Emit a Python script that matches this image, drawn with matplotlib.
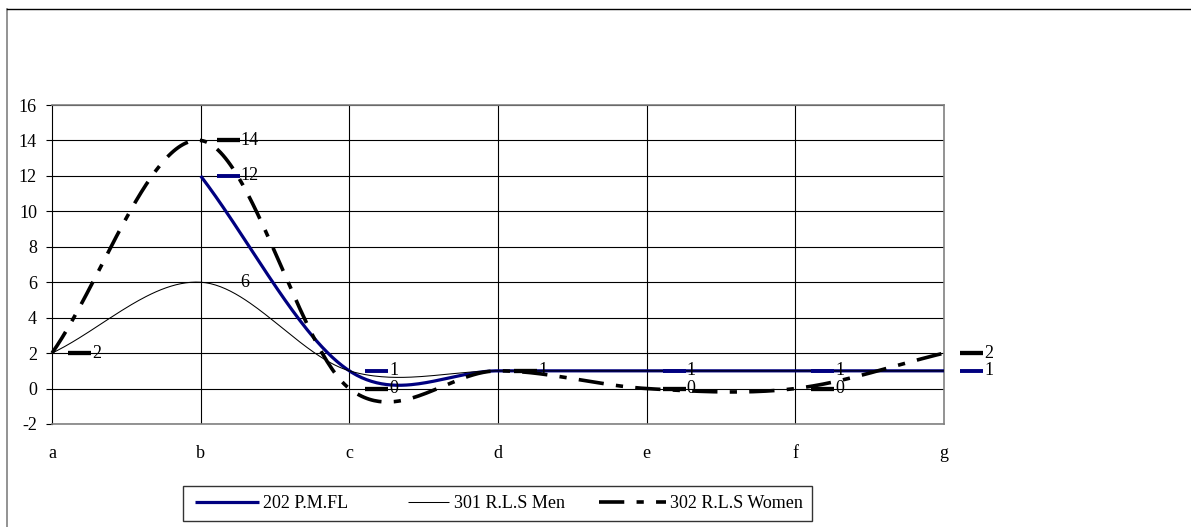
import numpy as np
import matplotlib
matplotlib.use("Agg")
import matplotlib.pyplot as plt
from matplotlib.lines import Line2D
from matplotlib.legend_handler import HandlerLine2D

# ---------------- data ----------------
categories = ['a', 'b', 'c', 'd', 'e', 'f', 'g']
pmfl = [np.nan, 12, 1, 1, 1, 1, 1]
rls_men = [2, 6, 1, 1, 1, 1, 1]
rls_women = [2, 14, 0, 1, 0, 0, 2]
series_names = ['202 P.M.FL', '301 R.L.S Men', '302 R.L.S Women']
y_ticks = list(range(-2, 17, 2))

W, H, DPI = 1191, 527, 100
plt.rcParams['font.family'] = ['Liberation Serif', 'DejaVu Serif']
FS = 13

NAVY = '#000080'
WOMEN_DASH = (0, (7.0, 3.4, 2.0, 3.4))


def smooth(xs, ys, n=60):
    """Excel-like smoothed line (cubic Hermite, Catmull-Rom tangents)."""
    xs = np.asarray(xs, float)
    ys = np.asarray(ys, float)
    mask = ~np.isnan(ys)
    x, y = xs[mask], ys[mask]
    k = len(x)
    m = np.zeros(k)
    for i in range(k):
        if i == 0:
            m[i] = (y[1] - y[0]) / (x[1] - x[0])
        elif i == k - 1:
            m[i] = (y[-1] - y[-2]) / (x[-1] - x[-2])
        else:
            m[i] = (y[i + 1] - y[i - 1]) / (x[i + 1] - x[i - 1])
    ox, oy = [], []
    for i in range(k - 1):
        h = x[i + 1] - x[i]
        t = np.linspace(0, 1, n, endpoint=(i == k - 2))
        h00 = 2 * t**3 - 3 * t**2 + 1
        h10 = t**3 - 2 * t**2 + t
        h01 = -2 * t**3 + 3 * t**2
        h11 = t**3 - t**2
        oy.append(h00 * y[i] + h10 * h * m[i] + h01 * y[i + 1] + h11 * h * m[i + 1])
        ox.append(x[i] + t * h)
    return np.concatenate(ox), np.concatenate(oy)


class ShortHandler(HandlerLine2D):
    """Legend key drawn over only the right part of the handle box."""
    def __init__(self, frac=1.0, **kw):
        super().__init__(**kw)
        self.frac = frac

    def get_xdata(self, legend, xdescent, ydescent, width, height, fontsize):
        x0 = -xdescent + width * (1 - self.frac)
        x1 = -xdescent + width
        return np.array([x0, x1]), np.array([(x0 + x1) / 2])


fig = plt.figure(figsize=(W / DPI, H / DPI), dpi=DPI)
ax = fig.add_axes([52 / W, 1 - 424 / H, (944 - 52) / W, (424 - 105) / H])

xpos = np.arange(len(categories))
ax.set_xlim(0, len(categories) - 1)
ax.set_ylim(min(y_ticks), max(y_ticks))

# gridlines
for yt in y_ticks:
    ax.axhline(yt, color='black', lw=0.8, zorder=1)
for xp in xpos[1:-1]:
    ax.axvline(xp, color='black', lw=0.8, zorder=1)

# series
styles = {
    '202 P.M.FL': dict(color=NAVY, lw=2.3, ls='-'),
    '301 R.L.S Men': dict(color='black', lw=0.75, ls='-'),
    '302 R.L.S Women': dict(color='black', lw=2.6, ls=WOMEN_DASH),
}
values = {'202 P.M.FL': pmfl, '301 R.L.S Men': rls_men, '302 R.L.S Women': rls_women}

handles = []
for name in series_names:
    sx, sy = smooth(xpos, values[name])
    ln, = ax.plot(sx, sy, zorder=3, solid_capstyle='butt', dash_capstyle='butt',
                  label=name, clip_on=False, **styles[name])
    handles.append(ln)

# data labels with legend keys
pxu = ax.transData.transform((1, 0))[0] - ax.transData.transform((0, 0))[0]
done = set()
for name in ['302 R.L.S Women', '202 P.M.FL', '301 R.L.S Men']:
    st = styles[name]
    for i, v in enumerate(values[name]):
        if np.isnan(v) or (i, v) in done:
            continue
        done.add((i, v))
        ax.plot([xpos[i] + 16 / pxu, xpos[i] + 39 / pxu], [v, v], color=st['color'],
                lw=st['lw'] + (0.5 if st['lw'] > 1 else 0), solid_capstyle='butt',
                zorder=4, clip_on=False)
        ax.text(xpos[i] + 40 / pxu, v, f'{v:g}', fontsize=FS, va='center', ha='left',
                zorder=5, clip_on=False)

# axes styling
ax.set_yticks(y_ticks)
ax.set_yticklabels([str(t) for t in y_ticks], fontsize=FS)
ax.set_xticks(xpos)
ax.set_xticklabels(categories, fontsize=FS)
ax.tick_params(axis='y', length=4.3, width=0.8, pad=6.5, direction='out', color='black')
ax.tick_params(axis='x', length=0, pad=15)
for s in ['top', 'right', 'bottom']:
    ax.spines[s].set_color('#808080')
    ax.spines[s].set_linewidth(1.2)
ax.spines['left'].set_color('black')
ax.spines['left'].set_linewidth(0.8)
ax.set_facecolor('white')

# legend
leg = fig.legend(handles=handles, labels=series_names, ncol=3,
                 loc='center', bbox_to_anchor=(183 / W, 1 - 521 / H, 629 / W, 35 / H),
                 bbox_transform=fig.transFigure, mode='expand', borderaxespad=0,
                 fontsize=FS, frameon=True, fancybox=False, shadow=False,
                 handlelength=3.7, handletextpad=0.25, columnspacing=2.0,
                 borderpad=0.5,
                 handler_map={handles[0]: ShortHandler(0.95),
                              handles[1]: ShortHandler(0.62),
                              handles[2]: ShortHandler(1.0)})
leg.get_frame().set_edgecolor('black')
leg.get_frame().set_linewidth(1.0)

# outer chart frame
fig.add_artist(Line2D([7 / W, 7 / W], [1 - 9 / H, 0], transform=fig.transFigure,
                      color='#808080', lw=1.2))
fig.add_artist(Line2D([7 / W, 1], [1 - 9 / H, 1 - 9 / H], transform=fig.transFigure,
                      color='black', lw=1.0))

fig.savefig('out.png', dpi=DPI, facecolor='white')
